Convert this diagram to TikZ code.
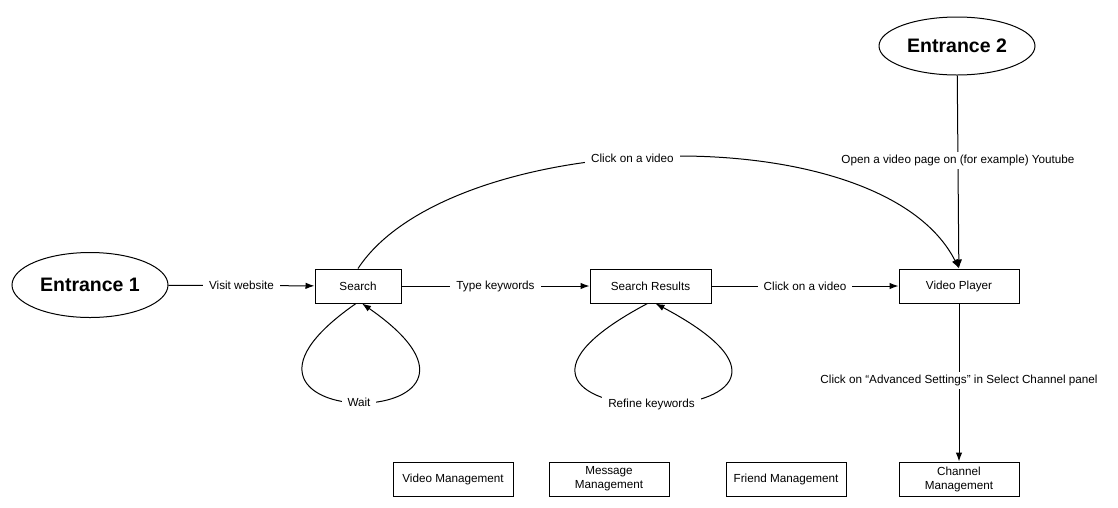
\documentclass[tikz,border=0pt]{standalone}
\usepackage{fontspec}
\setmainfont{Liberation Sans}
\usepackage{tikz}
\usetikzlibrary{positioning,shapes.geometric,arrows.meta}
\tikzset{
  entrance/.style={ % image of an entry point
    draw, ellipse, line width=1pt,
    minimum width=156pt, minimum height=62pt,
    inner sep=0pt, text=black,
    font=\fontsize{19.5}{22}\selectfont\bfseries
  },
  page/.style={ % image of a page of the site
    draw, rectangle, line width=1pt,
    minimum width=120pt, minimum height=34pt,
    inner sep=2pt, text=black, align=center,
    font=\fontsize{11.7}{14}\selectfont
  },
  lbl/.style={ % text on a connector
    fill=white, inner xsep=6pt, inner ysep=3pt,
    font=\fontsize{11.7}{14}\selectfont
  }
}
\begin{document}
\begin{tikzpicture}[
      x=1pt, y=-1pt, line width=1pt, >={Latex[length=9pt,width=6.5pt]}
    ]
      \useasboundingbox (0,0) rectangle (1118,507);

      \node[entrance, minimum height=65pt] (E1) at (90,285) {Entrance 1};
      \node[page, minimum width=86pt] (S) at (358,286) {Search};
      \node[page, minimum width=121pt] (SR) [right=188pt of S] {Search Results};
      \node[page] (VP) [right=187pt of SR] {Video Player};
      \node[entrance, minimum height=58pt] (E2) at (957,46) {Entrance 2};
      \node[page] (CM) [below=158pt of VP] {Channel\\Management};
      \node[page] (VM) at (453,479) {Video Management};
      \node[page] (MM) at (609,479) {Message\\Management};
      \node[page] (FM) at (786,479) {Friend Management};

      \draw[->] (E1) -- node[lbl] {Visit website} (S);
      \draw[->] (S) -- node[lbl] {Type keywords} (SR);
      \draw[->] (SR) -- node[lbl] {Click on a video} (VP);
      \draw[->] (E2) -- node[lbl, pos=.44] {Open a video page on (for example) Youtube} (VP);
      \draw[->] (VP) -- node[lbl, pos=.49] {Click on “Advanced Settings” in Select Channel panel} (CM);

      \draw[->] (S.north) .. controls (450,128) and (880,112) .. (VP.north)
        node[lbl, pos=.46] {Click on a video};
      \draw[->] ([xshift=-2pt]S.south) .. controls +(-190,132) and +(190,132) .. ([xshift=4pt]S.south)
        node[lbl, pos=.5] {Wait};
      \draw[->] ([xshift=-3pt]SR.south) .. controls +(-255,135) and +(255,135) .. ([xshift=5pt]SR.south)
        node[lbl, pos=.5] {Refine keywords};
    \end{tikzpicture}
\end{document}
